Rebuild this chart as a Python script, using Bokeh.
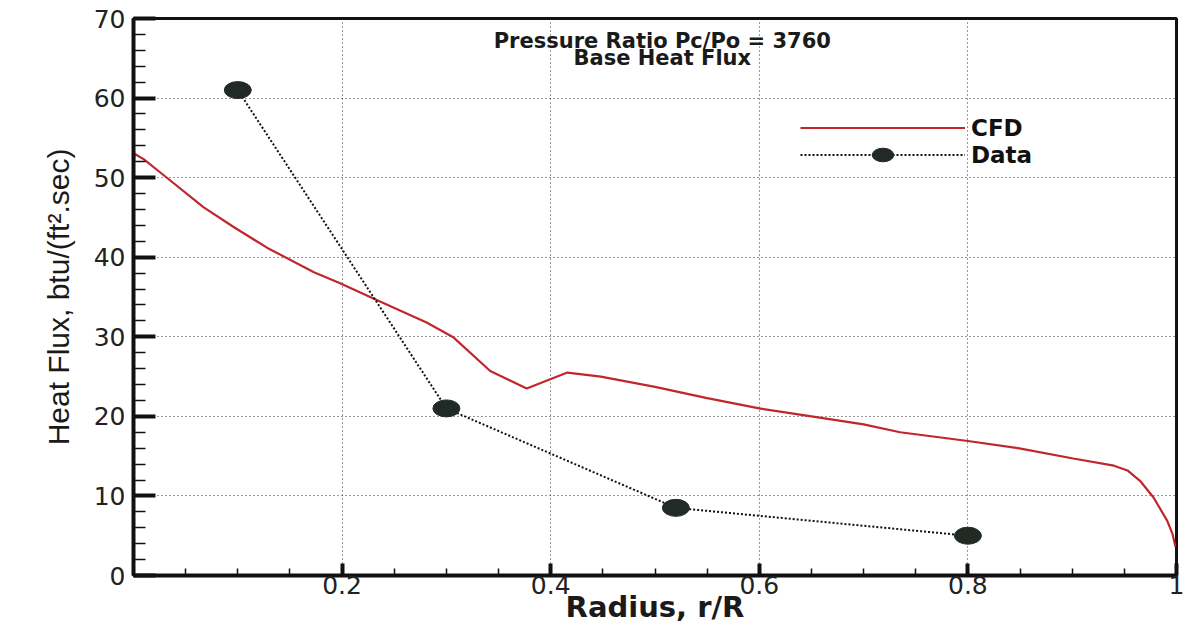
from bokeh.plotting import figure
from bokeh.models import (FixedTicker, CustomJSTickFormatter, Label, Legend, LegendItem, Range1d)
from bokeh.embed import file_html
from bokeh.resources import INLINE

# ---- data ----
cfd_r = [0.0, 0.001, 0.01, 0.029, 0.067, 0.096, 0.128, 0.173, 0.197, 0.23, 0.281, 0.307,
         0.342, 0.377, 0.416, 0.448, 0.5, 0.55, 0.6, 0.65, 0.7, 0.735, 0.8, 0.848, 0.901,
         0.94, 0.953, 0.965, 0.978, 0.991, 0.996, 0.999]
cfd_q = [51.2, 53.0, 52.3, 50.3, 46.3, 43.8, 41.2, 38.1, 36.8, 34.8, 31.8, 29.9,
         25.7, 23.5, 25.5, 25.0, 23.7, 22.3, 21.0, 20.0, 19.0, 18.0, 16.9, 16.0, 14.7,
         13.8, 13.2, 11.9, 9.8, 6.9, 5.3, 3.6]
data_r = [0.1, 0.3, 0.52, 0.8]
data_q = [61.0, 21.0, 8.5, 5.0]
x_ticks = [0.2, 0.4, 0.6, 0.8, 1.0]
y_ticks = [0, 10, 20, 30, 40, 50, 60, 70]
title_lines = ["Pressure Ratio Pc/Po = 3760", "Base Heat Flux"]

WIDE = "DejaVu Sans"
FONT = "Liberation Sans"

p = figure(frame_width=1043, frame_height=557, output_backend="svg", toolbar_location=None,
           x_range=Range1d(0, 1), y_range=Range1d(0, 70),
           min_border_left=133, min_border_right=8, min_border_top=18, min_border_bottom=40)
p.background_fill_color = "white"
p.border_fill_color = "white"
p.outline_line_color = "#111111"
p.outline_line_width = 3

# grid
for g in (p.xgrid, p.ygrid):
    g.grid_line_color = "#333333"
    g.grid_line_dash = "1 3"
    g.grid_line_width = 1
p.xgrid.ticker = FixedTicker(ticks=[0.2, 0.4, 0.6, 0.8])
p.ygrid.ticker = FixedTicker(ticks=[10, 20, 30, 40, 50, 60])

# axes
xa = p.xaxis[0]
xa.ticker = FixedTicker(ticks=x_ticks, minor_ticks=[i * 0.05 for i in range(1, 20)])
xa.formatter = CustomJSTickFormatter(code="return String(Math.round(tick*10)/10);")
ya = p.yaxis[0]
ya.ticker = FixedTicker(ticks=y_ticks, minor_ticks=[i * 2 for i in range(1, 35)])

for ax in (xa, ya):
    ax.axis_line_color = "#111111"
    ax.axis_line_width = 4
    ax.major_tick_line_color = "#111111"
    ax.minor_tick_line_color = "#111111"
    ax.major_tick_out = 0
    ax.minor_tick_out = 0
    ax.major_label_text_font = WIDE
    ax.major_label_text_font_size = "25px"
    ax.major_label_text_color = "#222222"
    ax.axis_label_text_color = "#1a1a1a"

xa.major_tick_in = 12
xa.minor_tick_in = 7
xa.major_tick_line_width = 4
xa.minor_tick_line_width = 1.5
xa.major_label_standoff = 0
xa.axis_label = "Radius, r/R"
xa.axis_label_text_font = WIDE
xa.axis_label_text_font_size = "29px"
xa.axis_label_text_font_style = "bold"
xa.axis_label_standoff = -7

ya.major_tick_in = 22
ya.minor_tick_in = 12
ya.major_tick_line_width = 4
ya.minor_tick_line_width = 1.5
ya.major_label_standoff = 8
ya.axis_label = "Heat Flux, btu/(ft\u00b2.sec)"
ya.axis_label_text_font = FONT
ya.axis_label_text_font_size = "30px"
ya.axis_label_text_font_style = "normal"
ya.axis_label_standoff = 16

# series
cfd = p.line(cfd_r, cfd_q, line_color="#c0272d", line_width=2.2)
dline = p.line(data_r, data_q, line_color="#111111", line_width=2, line_dash="2 2")
dmark = p.ellipse(x=data_r, y=data_q, width=27, height=17, width_units="screen",
                  height_units="screen", fill_color="#222a26", line_color="#222a26")

# title inside plot
p.add_layout(Label(x=0.507, y=68.7, text=title_lines[0], text_font=WIDE, text_font_size="21px",
                   text_font_style="bold", text_align="center", text_baseline="top",
                   text_color="#1a1a1a"))
p.add_layout(Label(x=0.507, y=66.5, text=title_lines[1], text_font=WIDE, text_font_size="21px",
                   text_font_style="bold", text_align="center", text_baseline="top",
                   text_color="#1a1a1a"))

legend = Legend(items=[LegendItem(label="CFD", renderers=[cfd]),
                       LegendItem(label="Data", renderers=[dline, dmark])],
                location=(667, 407), orientation="vertical",
                glyph_width=165, glyph_height=27, label_height=27,
                label_standoff=6, padding=0, margin=0, spacing=0,
                border_line_alpha=0, background_fill_alpha=0,
                label_text_font=WIDE, label_text_font_size="23px",
                label_text_font_style="bold", label_text_color="#111111",
                label_text_baseline="bottom")
p.add_layout(legend)

open("out.html", "w").write(file_html(p, INLINE))
